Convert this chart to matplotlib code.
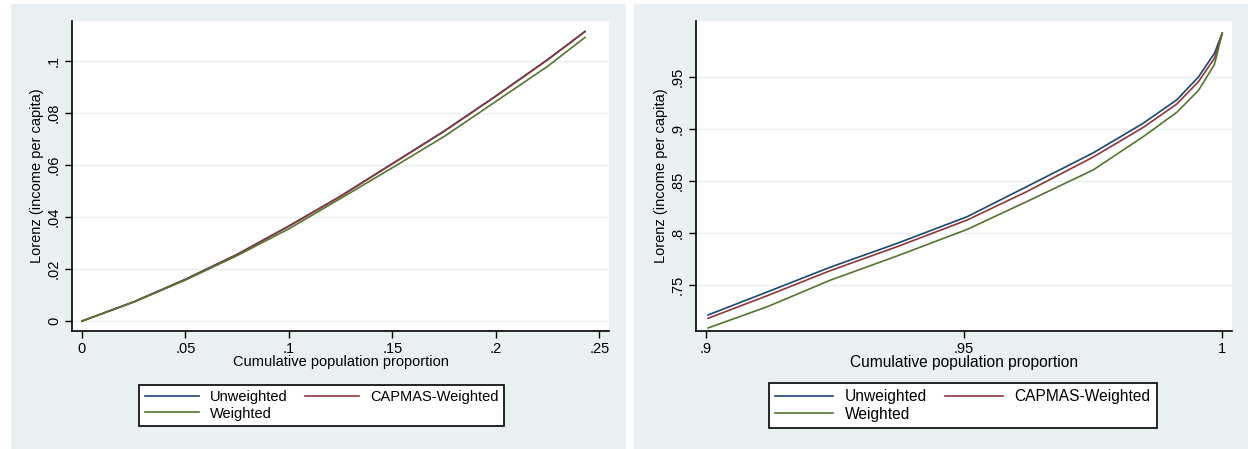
import matplotlib
matplotlib.use("Agg")
import matplotlib.pyplot as plt
from matplotlib.patches import Rectangle

# left panel: bottom of the distribution
x_low = [0, .025, .05, .075, .1, .125, .15, .175, .2, .225, .243]
unw_low = [0, .0074, .0161, .0257, .0366, .0481, .0606, .0731, .0866, .1006, .1114]
capmas_low = [0, .0074, .016, .0256, .0365, .048, .0605, .073, .0865, .1005, .1113]
wtd_low = [0, .0073, .0158, .0252, .0355, .0472, .059, .071, .0845, .098, .1091]

# right panel: top of the distribution
x_high = [.9004, .912, .924, .937, .9506, .9621, .975, .9847, .9912, .9954, .9985, 1.0]
unw_high = [.7212, .7436, .767, .790, .8157, .8445, .877, .9055, .928, .950, .9728, .992]
capmas_high = [.718, .740, .7637, .7868, .8125, .8397, .873, .9015, .924, .9455, .968, .992]
wtd_high = [.7087, .7294, .7545, .7779, .8035, .8301, .8606, .8926, .916, .937, .962, .992]

series = ["Unweighted", "CAPMAS-Weighted", "Weighted"]
colors = ["#1A476F", "#90353B", "#55752F"]

xticks_low = [0, .05, .1, .15, .2, .25]
xlabels_low = ["0", ".05", ".1", ".15", ".2", ".25"]
yticks_low = [0, .02, .04, .06, .08, .1]
ylabels_low = ["0", ".02", ".04", ".06", ".08", ".1"]

xticks_high = [.9, .95, 1]
xlabels_high = [".9", ".95", "1"]
yticks_high = [.75, .8, .85, .9, .95]
ylabels_high = [".75", ".8", ".85", ".9", ".95"]

plt.rcParams['font.family'] = ['Liberation Sans', 'DejaVu Sans']
plt.rcParams['font.size'] = 10.5

W, H = 1248, 449
fig = plt.figure(figsize=(W / 100, H / 100), dpi=100, facecolor="white")
bg = "#EAF0F2"

# gray panel backgrounds (pixel boxes -> figure fraction)
for (x0, x1) in [(11, 626), (634, 1248)]:
    fig.patches.append(Rectangle((x0 / W, 0), (x1 - x0) / W, (449 - 4) / H,
                                 transform=fig.transFigure, facecolor=bg,
                                 edgecolor="none", zorder=-10))


def make_panel(px_left, px_right, x, ys, xt, xl, yt, yl, xlim, ylim, legend_box, big):
    ax = fig.add_axes([px_left / W, (H - 331) / H, (px_right - px_left) / W, 310 / H])
    ax.set_zorder(1)
    ax.set_facecolor("white")
    for y, c, lab in zip(ys, colors, series):
        ax.plot(x, y, color=c, lw=1.2, label=lab)
    ax.set_xlim(*xlim)
    ax.set_ylim(*ylim)
    ax.set_xticks(xt)
    ax.set_xticklabels(xl)
    ax.set_yticks(yt)
    ax.set_yticklabels(yl, rotation=90, va="center")
    ax.spines["top"].set_visible(False)
    ax.spines["right"].set_visible(False)
    ax.spines["left"].set_linewidth(1.2)
    ax.spines["bottom"].set_linewidth(1.2)
    ax.tick_params(direction="out", length=5, width=1, pad=3, colors="black")
    ax.yaxis.grid(True, color=bg, lw=1)
    ax.set_axisbelow(True)
    ax.set_xlabel("Cumulative population proportion", labelpad=-1, fontsize=big)
    ax.set_ylabel("Lorenz (income per capita)", labelpad=2)
    h, l = ax.get_legend_handles_labels()
    order = [0, 2, 1]
    bx0, by0, bx1, by1 = legend_box
    leg = fig.legend([h[i] for i in order], [l[i] for i in order], ncol=2,
                     loc="center", fontsize=big,
                     bbox_to_anchor=((bx0 + bx1) / 2 / W, 1 - (by0 + by1) / 2 / H),
                     frameon=True, fancybox=False, edgecolor="black",
                     facecolor="white", framealpha=1,
                     handlelength=3.7, columnspacing=1.2, handletextpad=0.75,
                     labelspacing=0.15, borderpad=0.4)
    leg.get_frame().set_linewidth(1.2)
    leg.set_zorder(2)
    return ax


make_panel(72, 609, x_low, [unw_low, capmas_low, wtd_low],
           xticks_low, xlabels_low, yticks_low, ylabels_low,
           (-0.0048, 0.2546), (-0.0038, 0.1154), (137, 381, 506, 430), 10.5)
make_panel(696, 1232, x_high, [unw_high, capmas_high, wtd_high],
           xticks_high, xlabels_high, yticks_high, ylabels_high,
           (0.89806, 1.0019), (0.7058, 1.0038), (766, 381, 1160, 430), 11.2)

fig.savefig("out.png", dpi=100, facecolor="white")
